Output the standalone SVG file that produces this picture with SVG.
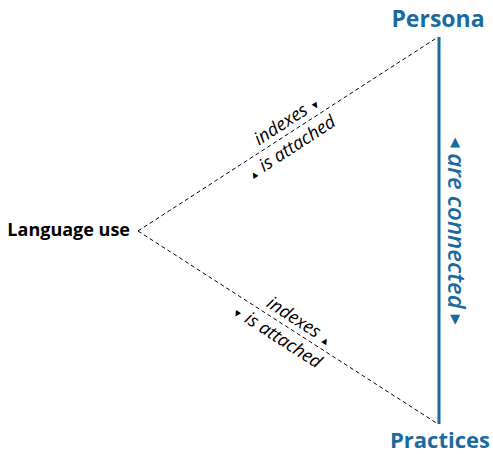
<svg xmlns="http://www.w3.org/2000/svg" width="493" height="454" viewBox="0 0 493 454">
<style>
.dash{stroke:#000;stroke-width:1;stroke-dasharray:4 3;fill:none}
.lbl{font-family:"Open Sans","Noto Sans",sans-serif;font-style:italic;font-size:18px;fill:#000}
.tri{font-size:10px;font-style:normal}
.blue{fill:#1a6aa0}
.node{font-family:"Open Sans","Noto Sans",sans-serif;font-weight:bold}
</style>
<rect width="493" height="454" fill="#fff"/>
<g id="connectors">
<line class="dash" x1="138" y1="231" x2="438" y2="37"/>
<line class="dash" x1="138" y1="231" x2="438" y2="424"/>
<line x1="439" y1="37" x2="439" y2="424" stroke="#1a6aa0" stroke-width="3"/>
<g transform="translate(138,231) rotate(-32.9)">
<text class="lbl" x="185" y="-6" text-anchor="middle">indexes <tspan class="tri">▼</tspan></text>
<text class="lbl" x="174" y="19" text-anchor="middle"><tspan class="tri">▲</tspan> is attached</text>
</g>
<g transform="translate(138,231) rotate(32.8)">
<text class="lbl" x="185" y="-6" text-anchor="middle">indexes <tspan class="tri">▲</tspan></text>
<text class="lbl" x="174" y="19" text-anchor="middle"><tspan class="tri">▼</tspan> is attached</text>
</g>
<g transform="translate(448,231) rotate(90)">
<text class="lbl blue" x="0" y="0" text-anchor="middle" style="font-size:24px;font-weight:600"><tspan class="tri" style="font-size:12px" dy="-4">◀</tspan><tspan dy="4">  are connected  </tspan><tspan class="tri" style="font-size:12px" dy="-4">▶</tspan></text>
</g>
</g>
<g id="language-use"><text class="node" x="130" y="236" text-anchor="end" font-size="18">Language use</text></g>
<g id="persona"><text class="node blue" x="438" y="27" text-anchor="middle" font-size="23">Persona</text></g>
<g id="practices"><text class="node blue" x="440" y="448" text-anchor="middle" font-size="22">Practices</text></g>
</svg>
